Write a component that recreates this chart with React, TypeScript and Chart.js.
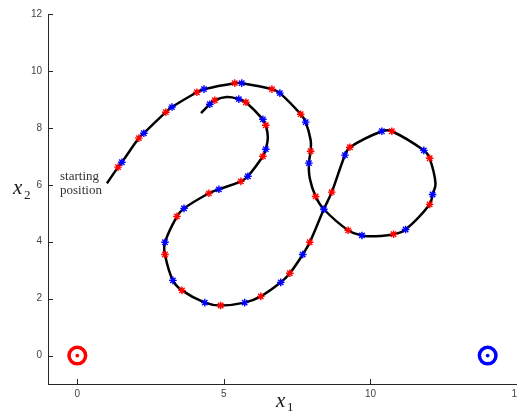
import React, { useEffect, useRef } from "react";
import { Chart, registerables } from "chart.js";

Chart.register(...registerables);

// Trajectory (in order along the path)
const curveX = [1.01, 1.39, 1.52, 2.10, 2.27, 3.02, 3.23, 4.08, 4.32, 5.37, 5.61, 6.64, 6.91, 7.62, 7.79, 7.96, 7.96, 7.90, 7.93, 8.13, 8.41, 9.24, 9.71, 10.18, 10.79, 11.20, 12.02, 12.12, 12.22, 12.02, 11.82, 10.73, 10.39, 9.30, 9.13, 8.68, 8.41, 7.93, 7.69, 7.25, 6.94, 6.26, 5.71, 4.89, 4.35, 3.57, 3.26, 2.99, 2.99, 3.40, 3.64, 4.49, 4.83, 5.58, 5.82, 6.33, 6.43, 6.50, 6.43, 6.33, 5.75, 5.51, 5.10, 4.69, 4.52, 4.22];
const curveY = [6.05, 6.62, 6.79, 7.64, 7.81, 8.55, 8.73, 9.25, 9.36, 9.57, 9.57, 9.36, 9.22, 8.48, 8.20, 7.57, 7.18, 6.76, 6.23, 5.59, 5.14, 4.40, 4.22, 4.19, 4.26, 4.43, 5.31, 5.66, 6.05, 6.93, 7.21, 7.88, 7.88, 7.32, 7.04, 5.74, 5.14, 3.98, 3.55, 2.89, 2.57, 2.08, 1.86, 1.76, 1.86, 2.29, 2.64, 3.55, 3.98, 4.89, 5.17, 5.70, 5.84, 6.12, 6.30, 7.00, 7.25, 7.67, 8.09, 8.30, 8.90, 9.01, 9.08, 8.97, 8.83, 8.52];

// Red markers
const redX = [1.39, 2.10, 3.02, 4.08, 5.37, 6.64, 7.62, 7.96, 8.13, 9.24, 10.79, 12.02, 12.02, 10.73, 9.30, 8.68, 7.93, 7.25, 6.26, 4.89, 3.57, 2.99, 3.40, 4.49, 5.58, 6.33, 6.43, 5.75, 4.69];
const redY = [6.62, 7.64, 8.55, 9.25, 9.57, 9.36, 8.48, 7.18, 5.59, 4.40, 4.26, 5.31, 6.93, 7.88, 7.32, 5.74, 3.98, 2.89, 2.08, 1.76, 2.29, 3.55, 4.89, 5.70, 6.12, 7.00, 8.09, 8.90, 8.97];

// Blue markers
const blueX = [1.52, 2.27, 3.23, 4.32, 5.61, 6.91, 7.79, 7.90, 8.41, 9.71, 11.20, 12.12, 11.82, 10.39, 9.13, 7.69, 6.94, 5.71, 4.35, 3.26, 2.99, 3.64, 4.83, 5.82, 6.43, 6.33, 5.51, 4.52];
const blueY = [6.79, 7.81, 8.73, 9.36, 9.57, 9.22, 8.20, 6.76, 5.14, 4.22, 4.43, 5.66, 7.21, 7.88, 7.04, 3.55, 2.57, 1.86, 1.86, 2.64, 3.98, 5.17, 5.84, 6.30, 7.25, 8.30, 9.01, 8.83];

// Targets
const redTarget = [0, 0];
const blueTarget = [14, 0];

const xTicks = [0, 5, 10, 15];
const yTicks = [0, 2, 4, 6, 8, 10, 12];

const AXIS_COLOR = "#262626";
const TICK_COLOR = "#444444";

const zip = (xs: number[], ys: number[]) => xs.map((x, i) => ({ x, y: ys[i] }));

const decorPlugin = {
  id: "decor",
  afterDraw(chart: any) {
    const { ctx, scales } = chart;
    const xs = scales.x;
    const ys = scales.y;
    const area = chart.chartArea;
    ctx.save();
    ctx.strokeStyle = AXIS_COLOR;
    ctx.lineWidth = 1;
    ctx.beginPath();
    xTicks.forEach((v) => {
      const px = Math.round(xs.getPixelForValue(v)) + 0.5;
      ctx.moveTo(px, area.bottom);
      ctx.lineTo(px, area.bottom - 5);
    });
    yTicks.forEach((v) => {
      const py = Math.round(ys.getPixelForValue(v)) + 0.5;
      ctx.moveTo(area.left, py);
      ctx.lineTo(area.left + 5, py);
    });
    ctx.stroke();

    ctx.fillStyle = "#1a1a1a";
    ctx.textAlign = "left";
    ctx.textBaseline = "alphabetic";
    // x1 label
    ctx.font = 'italic 21px "Liberation Serif"';
    ctx.fillText("x", 276, 407);
    ctx.font = '13px "Liberation Serif"';
    ctx.fillText("1", 287, 411);
    // x2 label
    ctx.font = 'italic 21px "Liberation Serif"';
    ctx.fillText("x", 13, 194);
    ctx.font = '13px "Liberation Serif"';
    ctx.fillText("2", 24, 199);
    // annotation
    ctx.fillStyle = "#333333";
    ctx.font = '13px "Liberation Serif"';
    ctx.fillText("starting", 60, 180);
    ctx.fillText("position", 60, 194);
    ctx.restore();
  },
};

export default function App() {
  const ref = useRef<HTMLCanvasElement | null>(null);
  useEffect(() => {
    if (!ref.current) return;
    const chart = new Chart(ref.current, {
      type: "scatter",
      data: {
        datasets: [
          {
            label: "path",
            data: zip(curveX, curveY),
            showLine: true,
            borderColor: "#000000",
            borderWidth: 2.5,
            tension: 0.4,
            pointRadius: 0,
            order: 5,
          },
          {
            label: "red",
            data: zip(redX, redY),
            pointStyle: "star",
            pointRadius: 3.8,
            borderColor: "#ff0000",
            backgroundColor: "#ff0000",
            pointBorderWidth: 1.4,
            order: 2,
          },
          {
            label: "blue",
            data: zip(blueX, blueY),
            pointStyle: "star",
            pointRadius: 3.8,
            borderColor: "#0000ff",
            backgroundColor: "#0000ff",
            pointBorderWidth: 1.4,
            order: 1,
          },
          {
            label: "redTarget",
            data: [{ x: redTarget[0], y: redTarget[1] }],
            pointStyle: "circle",
            pointRadius: 8.3,
            pointBorderWidth: 3.5,
            borderColor: "#ff0000",
            backgroundColor: "#ffffff",
            order: 4,
          },
          {
            label: "redTargetDot",
            data: [{ x: redTarget[0], y: redTarget[1] }],
            pointStyle: "circle",
            pointRadius: 1.9,
            pointBorderWidth: 0,
            borderColor: "#ff0000",
            backgroundColor: "#ff0000",
            order: 3,
          },
          {
            label: "blueTarget",
            data: [{ x: blueTarget[0], y: blueTarget[1] }],
            pointStyle: "circle",
            pointRadius: 8.3,
            pointBorderWidth: 3.5,
            borderColor: "#0000ff",
            backgroundColor: "#ffffff",
            order: 4,
          },
          {
            label: "blueTargetDot",
            data: [{ x: blueTarget[0], y: blueTarget[1] }],
            pointStyle: "circle",
            pointRadius: 1.9,
            pointBorderWidth: 0,
            borderColor: "#0000ff",
            backgroundColor: "#0000ff",
            order: 3,
          },
        ],
      },
      options: {
        animation: false,
        responsive: false,
        devicePixelRatio: 1,
        layout: { autoPadding: false, padding: { left: 0, right: 0, top: 14, bottom: 0 } },
        plugins: {
          legend: { display: false },
          tooltip: { enabled: false },
        },
        scales: {
          x: {
            type: "linear",
            min: -1,
            max: 15,
            grid: { display: false, drawTicks: false },
            border: { display: true, color: AXIS_COLOR, width: 1 },
            ticks: {
              color: TICK_COLOR,
              font: { family: '"Liberation Sans", Arial, sans-serif', size: 10 },
              padding: 4,
              maxRotation: 0,
              autoSkip: false,
            },
            afterBuildTicks: (s: any) => {
              s.ticks = xTicks.map((v) => ({ value: v }));
            },
            afterFit: (s: any) => {
              s.height = 28;
              s.paddingLeft = 0;
              s.paddingRight = 0;
            },
          },
          y: {
            type: "linear",
            min: -1,
            max: 12,
            grid: { display: false, drawTicks: false },
            border: { display: true, color: AXIS_COLOR, width: 1 },
            ticks: {
              color: TICK_COLOR,
              font: { family: '"Liberation Sans", Arial, sans-serif', size: 10 },
              padding: 6,
              autoSkip: false,
            },
            afterBuildTicks: (s: any) => {
              s.ticks = yTicks.map((v) => ({ value: v }));
            },
            afterFit: (s: any) => {
              s.width = 48;
              s.paddingTop = 0;
              s.paddingBottom = 0;
            },
          },
        },
      },
      plugins: [decorPlugin],
    });
    return () => chart.destroy();
  }, []);

  return (
    <div style={{ position: "absolute", left: 0, top: 0, width: 517, height: 412, background: "#fff" }}>
      <canvas ref={ref} width={517} height={412} style={{ display: "block" }} />
    </div>
  );
}
